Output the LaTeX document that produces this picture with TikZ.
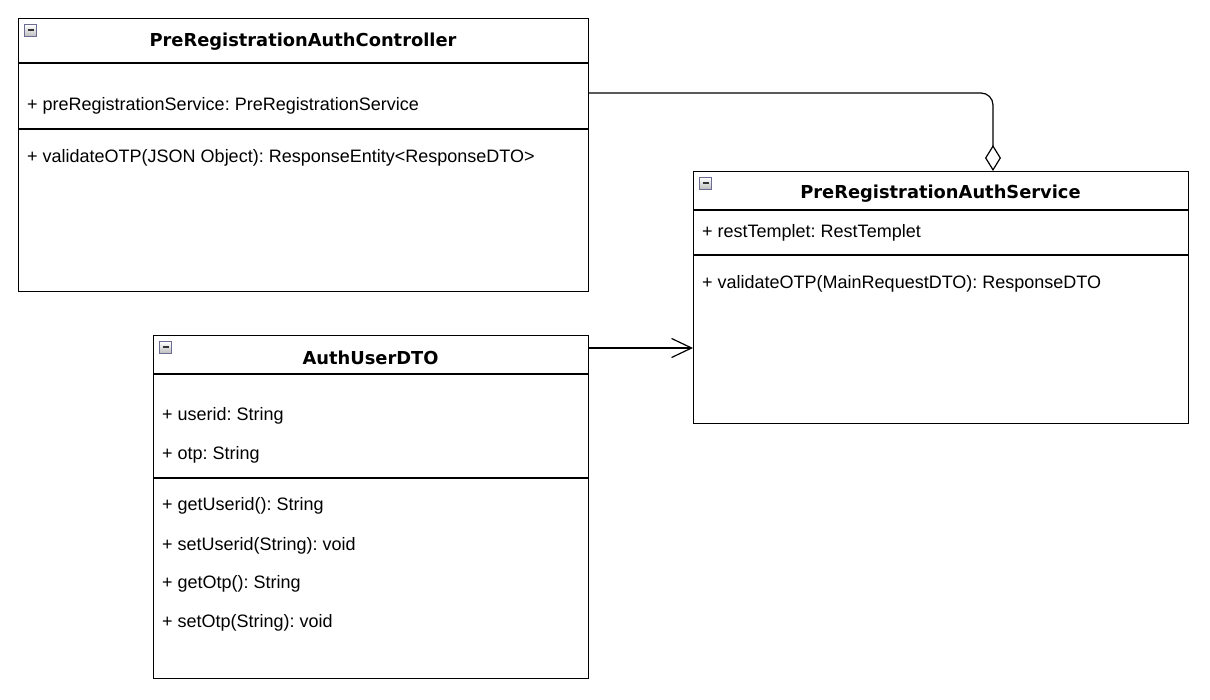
\documentclass[tikz,border=0pt]{standalone}
\usepackage{fontspec}
\setmainfont{Liberation Sans}
\newfontfamily\headfont{DejaVu Sans}
\usetikzlibrary{arrows.meta,calc}
\frenchspacing

\tikzset{
  classbox/.style={draw=black, line width=1.2pt, fill=white, anchor=north west, inner sep=0pt},
  sepline/.style={draw=black, line width=1.2pt},
  classtitle/.style={font=\headfont\bfseries\fontsize{17.85}{20}\selectfont, inner sep=0pt, anchor=center},
  member/.style={font=\fontsize{18}{20}\selectfont, inner sep=0pt, anchor=west},
  link/.style={draw=black, line width=1.2pt},
  collapse/.pic={
    \draw[line width=0.8pt, draw=gray!85!blue, top color=white, bottom color=gray!50] (0,0) rectangle (12,11.5);
    \draw[line width=2pt, black!80] (3,5.75) -- (9,5.75);
  }
}

\begin{document}
\begin{tikzpicture}[x=1pt, y=-1pt]
  \useasboundingbox (0,0) rectangle (1210,700);

  % --- PreRegistrationAuthController ---
  \node[classbox, minimum width=570pt, minimum height=273pt] (ctrl) at (18,18) {};
  \draw[sepline] (18,63) -- (588,63);
  \draw[sepline] (18,129) -- (588,129);
  \pic at (24.5,24.5) {collapse};
  \node[classtitle] (ctrlname) at (303,42) {PreRegistrationAuthController};
  \node[member] (ctrlattr) at (27,106) {+ preRegistrationService: PreRegistrationService};
  \node[member] (ctrlop) at (27,158) {+ validateOTP(JSON Object): ResponseEntity<ResponseDTO>};

  % --- PreRegistrationAuthService ---
  \node[classbox, minimum width=495pt, minimum height=252pt] (svc) at (693,171) {};
  \draw[sepline] (693,210) -- (1188,210);
  \draw[sepline] (693,255) -- (1188,255);
  \pic at (699.5,177.5) {collapse};
  \node[classtitle] (svcname) at (940.5,194) {PreRegistrationAuthService};
  \node[member] (svcattr) at (702,233) {+ restTemplet: RestTemplet};
  \node[member] (svcop) at (702,284) {+ validateOTP(MainRequestDTO): ResponseDTO};

  % --- AuthUserDTO ---
  \node[classbox, minimum width=435pt, minimum height=343pt] (dto) at (153,335) {};
  \draw[sepline] (153,374) -- (588,374);
  \draw[sepline] (153,478) -- (588,478);
  \pic at (159.5,341.5) {collapse};
  \node[classtitle] (dtoname) at (370.5,358) {AuthUserDTO};
  \node[member] (dtoa1) at (162,416) {+ userid: String};
  \node[member] (dtoa2) at (162,455) {+ otp: String};
  \node[member] (dtom1) at (162,506) {+ getUserid(): String};
  \node[member] (dtom2) at (162,546) {+ setUserid(String): void};
  \node[member] (dtom3) at (162,584) {+ getOtp(): String};
  \node[member] (dtom4) at (162,623) {+ setOtp(String): void};

  % --- relations ---
  \draw[link, rounded corners=12pt, -{Diamond[open, length=26pt, width=16pt, line width=1.2pt]}]
    (ctrl.east |- 0,93) -| ($(svc.north west)+(300,0)$);
  \draw[link, -{Straight Barb[length=20pt, width=19pt, line width=1.2pt]}]
    (dto.east |- 0,348) -- (svc.west |- 0,348);
\end{tikzpicture}
\end{document}
